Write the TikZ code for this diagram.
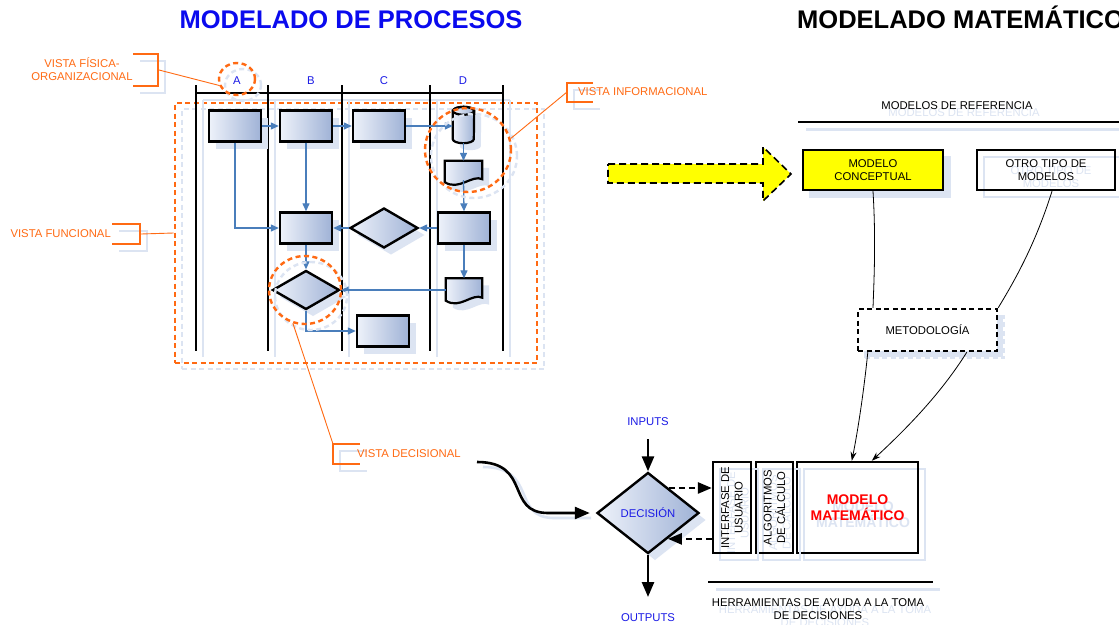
\documentclass[tikz,border=0pt]{standalone}
\usepackage{fontspec}
\setmainfont{Liberation Sans}
\usetikzlibrary{shapes.geometric,arrows.meta,shadows,calc}

\definecolor{vorange}{HTML}{FF6A13}
\definecolor{titleblue}{HTML}{0A0AEE}
\definecolor{laneblue}{HTML}{1A1AE6}
\definecolor{flowblue}{HTML}{4A7EBB}
\definecolor{boxlight}{HTML}{EEF2FA}
\definecolor{boxdark}{HTML}{9FB2D6}
\definecolor{ghost}{HTML}{DCE4F2}
\definecolor{hiyellow}{HTML}{FFFF00}
\definecolor{mmred}{HTML}{FF0000}

\tikzset{
  small/.style={font=\fontsize{11.3}{13.5}\selectfont},
  bigtitle/.style={font=\bfseries\fontsize{25.5}{30}\selectfont, inner sep=0pt},
  lanelabel/.style={small, text=laneblue, inner sep=0pt, anchor=base},
  lane/.style={line width=2.6pt},
  ghostline/.style={line width=2.2pt, draw=ghost},
  shade box/.style={left color=boxlight, right color=boxdark},
  gshadow/.style={drop shadow={shadow xshift=7pt, shadow yshift=-7pt, fill=ghost, opacity=1}},
  pbox/.style={rectangle, draw, line width=2.4pt, inner sep=0pt,
    minimum width=52pt, minimum height=31pt, shade box, gshadow},
  pdia/.style={diamond, draw, line width=2.4pt, inner sep=0pt, shade box, gshadow},
  flow/.style={draw=flowblue, line width=1.3pt, -{Triangle[length=8pt,width=7pt]}},
  orangeframe/.style={rectangle, draw=vorange, line width=2.6pt,
    dash pattern=on 5pt off 3.5pt, minimum width=362pt, minimum height=260pt, inner sep=0pt},
  vcirc/.style={ellipse, draw=vorange, line width=2.4pt, dash pattern=on 5pt off 3.5pt, inner sep=0pt},
  ghostcirc/.style={ellipse, draw=ghost, line width=2.4pt, dash pattern=on 5pt off 3.5pt, inner sep=0pt},
  lead/.style={draw=vorange, line width=0.9pt},
  brk/.style={draw=vorange, line width=2.8pt},
  ghostbrk/.style={draw=ghost, line width=2.8pt},
  vtext/.style={small, text=vorange, inner sep=0pt},
  rbox/.style={rectangle, draw, line width=2.4pt, inner sep=0pt, align=center, small,
    general shadow={shadow xshift=7pt, shadow yshift=-7pt, draw=ghost, line width=2.4pt}},
  ghosttext/.style={small, text=ghost, inner sep=0pt, align=center},
  thinarrow/.style={line width=0.8pt, -{Stealth[length=9pt,width=6pt]}},
  bigarrow/.style={line width=2.6pt, -{Triangle[length=15pt,width=12pt]}},
  dasharrow/.style={line width=2.6pt, dash pattern=on 6pt off 4pt, -{Triangle[length=14pt,width=11pt]}}
}

% document symbol with a wavy lower edge, drawn over a placeholder node
\newcommand\docpath[1]{(#1.north west) -- (#1.north east) -- ($(#1.south east)+(0,-4)$)
  .. controls ($(#1.south east)+(-10,-9)$) and ($(#1.south west)+(14,8)$) .. ($(#1.south west)+(0,-1)$) -- cycle}
% data store (cylinder) outline over a placeholder node
\newcommand\cylpath[1]{($(#1.north west)+(0,4)$) -- ($(#1.south west)+(0,-4)$)
  arc[start angle=180, end angle=360, x radius=10.5pt, y radius=4pt]
  -- ($(#1.north east)+(0,4)$)
  arc[start angle=0, end angle=180, x radius=10.5pt, y radius=4pt] -- cycle}

\begin{document}
\begin{tikzpicture}[x=1pt,y=-1pt]
\useasboundingbox (0,0) rectangle (1119,624);
\fill[white] (0,0) rectangle (1119,624);

% ---------------- titles
\node[bigtitle, text=titleblue, anchor=base] (t1) at (351,28.5) {MODELADO DE PROCESOS};
\node[bigtitle, anchor=base west] (t2) at (797,28.5) {MODELADO MATEMÁTICO};

% ---------------- process frame and swim lanes
\node[orangeframe, draw=ghost] (frameghost) at (363,239) {};
\node[orangeframe] (frame) at (356,233) {};

\foreach \x in {196,268,342,430,503} \draw[ghostline] (\x+7,100) -- (\x+7,357);
\draw[ghostline] (203,100) -- (510,100);
\foreach \x in {196,268,342,430,503} \draw[lane] (\x,85) -- (\x,351);
\draw[lane] (196,93) -- (503,93);

\node[lanelabel] (laneA) at (237,84) {A};
\node[lanelabel] (laneB) at (311,84) {B};
\node[lanelabel] (laneC) at (384,84) {C};
\node[lanelabel] (laneD) at (463,84) {D};

% ---------------- process steps
\node[pbox] (R1) at (235,126) {};
\node[pbox] (R2) at (306,126) {};
\node[pbox] (R3) at (379,126) {};
\node[minimum width=21pt, minimum height=36pt, inner sep=0pt] (cyl) at (463.5,125) {};
\node[minimum width=37pt, minimum height=22pt, inner sep=0pt] (doc1) at (463.5,172) {};
\node[pbox] (R4) at (306,228) {};
\node[pdia, minimum width=68pt, minimum height=40pt] (diaC) at (384,228) {};
\node[pbox] (R5) at (464,228) {};
\node[minimum width=36pt, minimum height=23pt, inner sep=0pt] (doc2) at (464,290) {};
\node[pdia, minimum width=67pt, minimum height=39pt] (diaB) at (306,290) {};
\node[pbox] (R6) at (383,331) {};

\fill[ghost, transform canvas={xshift=7pt,yshift=-7pt}] \cylpath{cyl};
\fill[ghost, transform canvas={xshift=7pt,yshift=-7pt}] \docpath{doc1};
\fill[ghost, transform canvas={xshift=7pt,yshift=-7pt}] \docpath{doc2};
\draw[line width=2.2pt, shade box] \cylpath{cyl};
\draw[line width=2.2pt] ($(cyl.north)+(0,4)$) ellipse [x radius=10.5pt, y radius=4pt];
\draw[line width=2.2pt, shade box] \docpath{doc1};
\draw[line width=2.2pt, shade box] \docpath{doc2};

% ---------------- process flow
\draw[flow] (R1.east) -- (R2.west);
\draw[flow] (R2.east) -- (R3.west);
\draw[flow] (R3.east) -- (R3.east -| cyl.west);
\draw[flow] (cyl.south) -- (doc1.north);
\draw[flow] ($(doc1.south)+(0,-3)$) -- (R5.north);
\draw[flow] (R1.south) |- (R4.west);
\draw[flow] (R2.south) -- (R4.north);
\draw[flow] (R5.west) -- (diaC.east);
\draw[flow] (diaC.west) -- (R4.east);
\draw[flow] (R4.south) -- (diaB.north);
\draw[flow] (R5.south) -- (doc2.north);
\draw[flow] (doc2.west) -- (diaB.east);
\draw[flow] (diaB.south) |- (R6.west);

% ---------------- view highlights
\node[ghostcirc, minimum width=36pt, minimum height=32pt] at (243,85) {};
\node[ghostcirc, minimum width=86pt, minimum height=84pt] at (474,156) {};
\node[ghostcirc, minimum width=72pt, minimum height=68pt] at (311,296) {};
\node[vcirc, minimum width=36pt, minimum height=32pt] (circA) at (237,79) {};
\node[vcirc, minimum width=86pt, minimum height=84pt] (circI) at (468,150) {};
\node[vcirc, minimum width=72pt, minimum height=68pt] (circD) at (305,290) {};

% ---------------- view callouts
\draw[ghostbrk] (140,61) -- (165,61) -- (165,93) -- (140,93);
\draw[brk] (133,54) -- (158,54) -- (158,86) -- (133,86);
\coordinate (bFO) at (159,70);
\node[vtext, align=center] (vfo) at (82,69) {VISTA FÍSICA-\\ORGANIZACIONAL};
\draw[lead] (bFO) -- (circA.200);

\draw[ghostbrk] (119,231) -- (147,231) -- (147,251) -- (119,251);
\draw[brk] (112,224) -- (140,224) -- (140,244) -- (112,244);
\coordinate (bFU) at (141,234);
\node[vtext, anchor=base east] (vfu) at (111,237) {VISTA FUNCIONAL};
\draw[lead] (bFU) -- (frame.west);

\draw[ghostbrk] (600,90) -- (574,90) -- (574,109) -- (600,109);
\draw[brk] (593,83) -- (567,83) -- (567,102) -- (593,102);
\coordinate (bIN) at (567,92);
\node[vtext, anchor=base west] (vin) at (578,95.5) {VISTA INFORMACIONAL};
\draw[lead] (bIN) -- (circI.15);

\draw[ghostbrk] (367,451) -- (340,451) -- (340,471) -- (367,471);
\draw[brk] (360,444) -- (333,444) -- (333,464) -- (360,464);
\coordinate (bDE) at (333,444);
\node[vtext, anchor=base west] (vde) at (357,457.5) {VISTA DECISIONAL};
\draw[lead] (bDE) -- (circD.250);

% ---------------- transfer arrow
\draw[fill=hiyellow, line width=1.6pt, dash pattern=on 7pt off 4pt]
  (608,164) -- (763,164) -- (763,147) -- (791,174) -- (763,201) -- (763,183) -- (608,183) -- cycle;

% ---------------- reference models
\node[ghosttext, anchor=base] at (964,116) {MODELOS DE REFERENCIA};
\node[small, inner sep=0pt, anchor=base] (mref) at (957,109) {MODELOS DE REFERENCIA};
\draw[ghost, line width=3pt] (806,129) -- (1119,129);
\draw[line width=2.4pt] (798,122) -- (1119,122);

\node[rbox, fill=hiyellow, minimum width=140pt, minimum height=40pt,
      drop shadow={shadow xshift=7pt, shadow yshift=-7pt, fill=ghost, opacity=1}] (conc) at (873,170) {MODELO\\CONCEPTUAL};
\node[ghosttext] at (1051,177) {OTRO TIPO DE\\MODELOS};
\node[rbox, minimum width=138pt, minimum height=40pt] (otro) at (1046,170) {OTRO TIPO DE\\MODELOS};
\node[rbox, fill=white, dash pattern=on 5pt off 3.5pt, minimum width=139pt, minimum height=42pt,
      drop shadow={shadow xshift=6pt, shadow yshift=-6pt, fill=ghost, opacity=1}] (met) at (927.5,330) {METODOLOGÍA};

\draw[line width=0.8pt] (conc.south) .. controls (876,240) and (874,280) .. (met.north west -| conc.south);
\draw[line width=0.8pt] ($(otro.south)+(6,0)$) .. controls (1035,245) and (1015,280) .. (met.north east);

% ---------------- decision tools
\node[ghosttext, font=\bfseries\fontsize{14}{16}\selectfont] at (863,515) {MODELO\\MATEMÁTICO};
\node[rbox, minimum width=121pt, minimum height=91pt, text=mmred,
      font=\bfseries\fontsize{14}{16}\selectfont] (mm) at (857.5,507.5) {MODELO\\MATEMÁTICO};
\node[rbox, minimum width=37pt, minimum height=91pt] (alg) at (774.5,507.5) {};
\node[rbox, minimum width=38pt, minimum height=91pt] (ui) at (732,507.5) {};
\node[ghosttext, rotate=90] at (738,513) {INTERFASE DE\\USUARIO};
\node[ghosttext, rotate=90] at (780,513) {ALGORITMOS\\DE CÁLCULO};
\node[small, rotate=90, align=center, inner sep=0pt] (uitext) at (ui) {INTERFASE DE\\USUARIO};
\node[small, rotate=90, align=center, inner sep=0pt] (algtext) at (alg) {ALGORITMOS\\DE CÁLCULO};

\draw[thinarrow] ($(met.south west)+(11,0)$) .. controls (864,390) and (858,430) .. ($(mm.north west)+(56,0)$);
\draw[thinarrow] ($(met.south west)+(110,0)$) .. controls (940,395) and (905,430) .. ($(mm.north west)+(76,0)$);

\node[diamond, draw, line width=2.4pt, inner sep=0pt, minimum width=102pt, minimum height=81pt,
      shade box, gshadow, small, text=laneblue] (dec) at (648,513) {DECISIÓN};

\node[small, text=laneblue, inner sep=0pt, anchor=base] (inputs) at (648,425) {INPUTS};
\node[small, text=laneblue, inner sep=0pt, anchor=base] (outputs) at (648,621) {OUTPUTS};
\draw[bigarrow] ([yshift=-14pt]inputs.base) -- (dec.north);
\draw[bigarrow] (dec.south) -- ([yshift=24pt]outputs.base);

\coordinate (decup) at ($(dec.north)!0.4!(dec.east)$);
\coordinate (declow) at ($(dec.east)!0.62!(dec.south)$);
\draw[dasharrow] (decup) -- (decup -| ui.west);
\draw[dasharrow] (declow -| ui.west) -- (declow);

\coordinate (cstart) at (477,462);
\draw[ghost, line width=2.6pt, transform canvas={xshift=6pt,yshift=-5pt}]
  (cstart) .. controls (532,462) and (505,513) .. (548,513) -- (585,513);
\draw[bigarrow, shorten >=6pt] (cstart) .. controls (532,462) and (505,513) .. (548,513) -- (dec.west);

\draw[ghost, line width=3pt] (716,589) -- (940,589);
\draw[line width=2.4pt] (708,582) -- (933,582);
\node[ghosttext] at (825,616) {HERRAMIENTAS DE AYUDA A LA TOMA\\DE DECISIONES};
\node[small, align=center, inner sep=0pt] (herr) at (818,609) {HERRAMIENTAS DE AYUDA A LA TOMA\\DE DECISIONES};

\end{tikzpicture}
\end{document}
